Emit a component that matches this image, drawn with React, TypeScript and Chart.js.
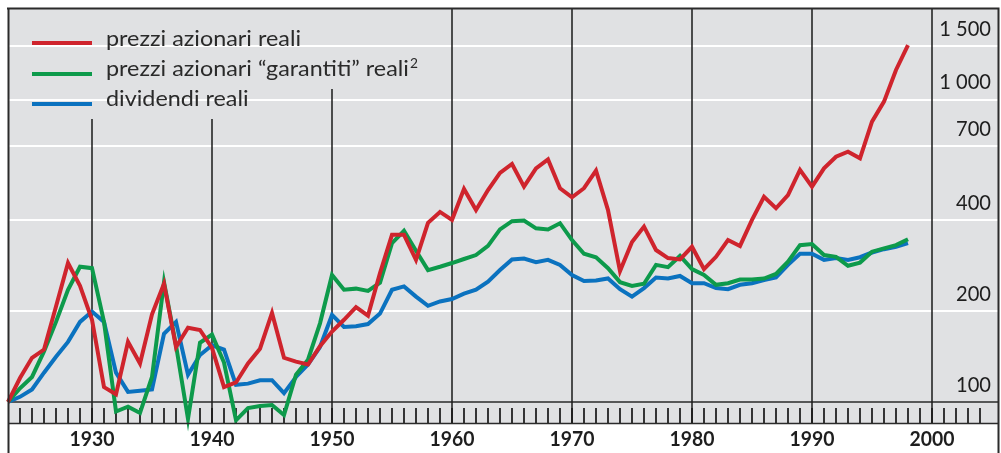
import React, { useEffect, useRef } from "react";
import { Chart, registerables } from "chart.js";

Chart.register(...registerables);

// ---- DATA ----
const years = [
  1923, 1924, 1925, 1926, 1927, 1928, 1929, 1930, 1931, 1932,
  1933, 1934, 1935, 1936, 1937, 1938, 1939, 1940, 1941, 1942,
  1943, 1944, 1945, 1946, 1947, 1948, 1949, 1950, 1951, 1952,
  1953, 1954, 1955, 1956, 1957, 1958, 1959, 1960, 1961, 1962,
  1963, 1964, 1965, 1966, 1967, 1968, 1969, 1970, 1971, 1972,
  1973, 1974, 1975, 1976, 1977, 1978, 1979, 1980, 1981, 1982,
  1983, 1984, 1985, 1986, 1987, 1988, 1989, 1990, 1991, 1992,
  1993, 1994, 1995, 1996, 1997, 1998,
];

const realStockPrices = [
  100, 120, 140, 149, 207, 288, 242, 187, 112, 106,
  158, 134, 195, 246, 152, 176, 173, 151, 112, 116,
  134, 150, 197, 140, 136, 133, 153, 171, 187, 206,
  193, 267, 357, 357, 295, 391, 425, 400, 506, 431,
  502, 572, 612, 515, 592, 634, 509, 475, 509, 582,
  431, 271, 338, 380, 318, 299, 296, 326, 275, 302,
  343, 328, 400, 477, 437, 483, 585, 515, 592, 647,
  672, 639, 845, 984, 1252, 1514,
];

const guaranteedStockPrices = [
  100, 111, 121, 147, 184, 235, 280, 277, 184, 93,
  96.5, 92, 121, 249, 154, 88, 157, 167, 135, 87,
  95.5, 97, 97.7, 90.6, 123, 138, 182, 263, 235, 237,
  233, 248, 335, 368, 316, 273, 280, 288, 297, 306,
  328, 372, 396, 398, 375, 372, 390, 343, 309, 301,
  277, 249, 242, 246, 284, 279, 304, 275, 263, 244,
  247, 254, 254, 256, 265, 291, 330, 333, 306, 302,
  282, 289, 314, 322, 330, 345,
];

const realDividends = [
  100, 104, 110, 125, 141, 158, 184, 199, 184, 125,
  108, 109, 110, 168, 184, 123, 143, 154, 149, 114,
  115, 118, 118, 107, 121, 133, 152, 194, 177, 178,
  181, 196, 235, 241, 223, 208, 215, 219, 228, 235,
  250, 273, 296, 298, 290, 295, 284, 263, 251, 252,
  256, 236, 223, 238, 258, 256, 261, 247, 247, 238,
  236, 244, 247, 253, 258, 284, 309, 309, 295, 299,
  295, 301, 312, 320, 326, 335,
];

const seriesLabels = [
  "prezzi azionari reali",
  "prezzi azionari \u201Cgarantiti\u201D reali",
  "dividendi reali",
];
const seriesNoteMarks = ["", "2", ""];

const yGridValues = [200, 400, 700, 1000, 1500];
const yTickValues = [100, 200, 400, 700, 1000, 1500];
const yTickLabels = ["100", "200", "400", "700", "1 000", "1 500"];
const decadeYears = [1930, 1940, 1950, 1960, 1970, 1980, 1990, 2000];
const decadeLabels = ["1930", "1940", "1950", "1960", "1970", "1980", "1990", "2000"];

// ---- STYLE ----
const RED = "#cf242d";
const GREEN = "#0d9a4b";
const BLUE = "#0b72bf";
const COLORS = [RED, GREEN, BLUE];
const PANEL = "#e0e1e3";
const INK = "#1e1e1e";
const FONT = "Lato, 'Open Sans', sans-serif";

// vertical decade lines that stop below the legend (offset from plot top, px)
const decadeLineTopOffset: Record<number, number> = { 1930: 111, 1940: 111, 1950: 81 };

const decorPlugin = {
  id: "decor",
  beforeDatasetsDraw(chart: any) {
    const { ctx, chartArea: a, scales } = chart;
    const xs = scales.x;
    const ys = scales.y;
    ctx.save();
    // panel
    ctx.fillStyle = PANEL;
    ctx.fillRect(a.left, a.top, a.right - a.left, a.bottom - a.top);
    // white grid lines
    ctx.strokeStyle = "#ffffff";
    ctx.lineWidth = 2;
    for (const v of yGridValues) {
      const py = Math.round(ys.getPixelForValue(v));
      ctx.beginPath();
      ctx.moveTo(a.left, py);
      ctx.lineTo(a.right, py);
      ctx.stroke();
    }
    // base line at 100
    const y100 = ys.getPixelForValue(100);
    ctx.strokeStyle = "#2a2a2a";
    ctx.lineWidth = 1.6;
    ctx.beginPath();
    ctx.moveTo(a.left, y100);
    ctx.lineTo(a.right, y100);
    ctx.stroke();
    // yearly ticks in the strip
    ctx.strokeStyle = "#222";
    ctx.lineWidth = 1.8;
    const first = Math.ceil(xs.min);
    const last = Math.floor(xs.max);
    for (let yr = first + 1; yr <= last - 1; yr++) {
      const px = xs.getPixelForValue(yr);
      ctx.beginPath();
      ctx.moveTo(px, y100 + 6);
      ctx.lineTo(px, a.bottom - 1);
      ctx.stroke();
    }
    // decade lines
    ctx.strokeStyle = "#1a1a1a";
    ctx.lineWidth = 1.5;
    for (const d of decadeYears) {
      const px = xs.getPixelForValue(d);
      const top = a.top + (decadeLineTopOffset[d] ?? 0);
      ctx.beginPath();
      ctx.moveTo(px, top);
      ctx.lineTo(px, a.bottom);
      ctx.stroke();
    }
    ctx.restore();
  },
  afterDatasetsDraw(chart: any) {
    const { ctx, chartArea: a, scales } = chart;
    const xs = scales.x;
    const ys = scales.y;
    ctx.save();
    // frame
    ctx.strokeStyle = "#2b2b2b";
    ctx.lineWidth = 2;
    ctx.beginPath();
    ctx.moveTo(a.left - 1, a.top + 0.5);
    ctx.lineTo(a.right + 1.5, a.top + 0.5);
    ctx.moveTo(a.left + 0.5, a.top);
    ctx.lineTo(a.left + 0.5, chart.height);
    ctx.moveTo(a.right + 0.5, a.top);
    ctx.lineTo(a.right + 0.5, chart.height);
    ctx.stroke();
    ctx.lineWidth = 1.6;
    ctx.beginPath();
    ctx.moveTo(a.left, a.bottom - 0.5);
    ctx.lineTo(a.right, a.bottom - 0.5);
    ctx.stroke();

    ctx.fillStyle = INK;
    // right value labels
    ctx.font = `21px ${FONT}`;
    const sxR = 35 / ctx.measureText("700").width;
    ctx.textAlign = "right";
    ctx.textBaseline = "middle";
    yTickValues.forEach((v, i) => {
      const py = ys.getPixelForValue(v) - 17;
      ctx.save();
      ctx.translate(a.right - 7, py);
      ctx.scale(sxR, 1);
      ctx.fillText(yTickLabels[i], 0, 0);
      ctx.restore();
    });
    // year labels
    ctx.font = `bold 20px ${FONT}`;
    const sxY = 45 / ctx.measureText("1930").width;
    ctx.textAlign = "center";
    ctx.textBaseline = "middle";
    decadeYears.forEach((d, i) => {
      const px = xs.getPixelForValue(d);
      ctx.save();
      ctx.translate(px, a.bottom + 16);
      ctx.scale(sxY, 1);
      ctx.fillText(decadeLabels[i], 0, 0);
      ctx.restore();
    });
    // legend
    ctx.font = `22px ${FONT}`;
    const sxL = 195 / ctx.measureText(seriesLabels[0]).width;
    ctx.textAlign = "left";
    ctx.textBaseline = "alphabetic";
    const rows = [43, 74, 104];
    const baselines = [46, 76, 106];
    seriesLabels.forEach((lab, i) => {
      ctx.strokeStyle = COLORS[i];
      ctx.lineWidth = 4;
      ctx.beginPath();
      ctx.moveTo(a.left + 24, rows[i]);
      ctx.lineTo(a.left + 84, rows[i]);
      ctx.stroke();
      ctx.fillStyle = "#2a2a2a";
      ctx.save();
      ctx.translate(a.left + 98, baselines[i]);
      ctx.scale(sxL, 1);
      ctx.font = `22px ${FONT}`;
      ctx.fillText(lab, 0, 0);
      const w = ctx.measureText(lab).width;
      if (seriesNoteMarks[i]) {
        ctx.font = `13px ${FONT}`;
        ctx.fillText(seriesNoteMarks[i], w + 1, -8);
      }
      ctx.restore();
    });
    ctx.restore();
  },
};

export default function App() {
  const ref = useRef<HTMLCanvasElement | null>(null);
  useEffect(() => {
    if (!ref.current) return;
    const seriesValues = [realStockPrices, guaranteedStockPrices, realDividends];
    const chart = new Chart(ref.current, {
      type: "line",
      data: {
        datasets: seriesValues.map((vals, i) => ({
          label: seriesLabels[i],
          data: years.map((yr, j) => ({ x: yr, y: vals[j] })),
          borderColor: COLORS[i],
          backgroundColor: COLORS[i],
          borderWidth: 4,
          pointRadius: 0,
          tension: 0,
          borderJoinStyle: "miter" as const,
          clip: false as any,
        })),
      },
      options: {
        responsive: false,
        animation: false,
        devicePixelRatio: 1,
        layout: { padding: { left: 8, top: 8, right: 3, bottom: 29 } },
        plugins: { legend: { display: false }, tooltip: { enabled: false } },
        events: [],
        scales: {
          x: { type: "linear", min: 1923, max: 2005.5, bounds: "data", display: false },
          y: { type: "logarithmic", min: 84.57, max: 2007, bounds: "data", display: false },
        },
      },
      plugins: [decorPlugin],
    });
    return () => chart.destroy();
  }, []);
  return (
    <div style={{ position: "fixed", left: 0, top: 0, width: 1001, height: 453, background: "#fff" }}>
      <canvas ref={ref} width={1001} height={453} style={{ display: "block" }} />
    </div>
  );
}
